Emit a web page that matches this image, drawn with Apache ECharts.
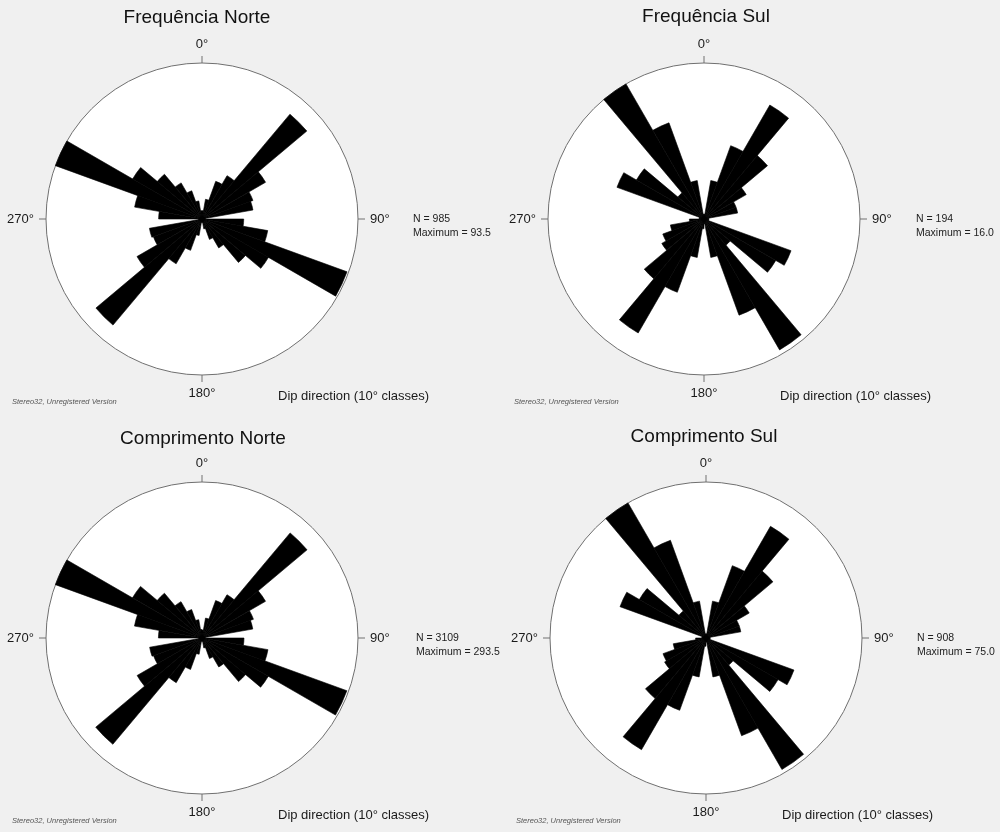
<!DOCTYPE html>
<html>
<head>
<meta charset="utf-8">
<title>Rosetas de direção de mergulho</title>
<script src="https://cdn.jsdelivr.net/npm/echarts@6/dist/echarts.min.js"></script>
<style>
  html, body { margin: 0; padding: 0; background: #f0f0f0; }
  #chart { width: 1000px; height: 832px; }
</style>
</head>
<body>
<div id="chart"></div>
<script>
// 10° dip-direction classes, clockwise from north
const classes = [
  '0-10', '10-20', '20-30', '30-40', '40-50', '50-60', '60-70', '70-80', '80-90',
  '90-100', '100-110', '110-120', '120-130', '130-140', '140-150', '150-160', '160-170', '170-180',
  '180-190', '190-200', '200-210', '210-220', '220-230', '230-240', '240-250', '250-260', '260-270',
  '270-280', '280-290', '290-300', '300-310', '310-320', '320-330', '330-340', '340-350', '350-360'
];

// class values per diagram
const freqNorte = [
  5, 12, 24, 30, 82, 44, 32.5, 31, 2,
  25, 40, 92.5, 46, 34, 20, 13, 6, 2,
  2, 10, 20, 31, 83, 45, 31, 32, 2,
  26, 41, 93.5, 48, 35, 25, 18, 11, 5
];
const freqSul = [
  0.5, 4, 8, 13.5, 8.5, 5, 3.5, 3.5, 0.5,
  0.5, 0.5, 9.5, 8.5, 3.5, 15.5, 10.5, 4, 0.5,
  1, 4, 8, 13.5, 8, 5, 4.5, 3.5, 1.5,
  0.5, 0.5, 9.5, 8, 3.5, 16, 10.5, 4, 0.5
];
const compNorte = [
  15, 38, 75, 94, 258, 138, 103, 97, 6,
  79, 126, 290, 144, 107, 63, 41, 19, 6,
  6, 31, 63, 97, 261, 141, 97, 100, 6,
  82, 129, 293.5, 151, 110, 79, 57, 35, 16
];
const compSul = [
  2, 18, 37, 62, 42, 24, 17, 17, 2,
  2, 2, 45, 40, 17, 73, 50, 19, 2,
  4, 19, 37, 62, 38, 23, 22, 16, 5,
  2, 2, 44, 37, 17, 75, 50, 18, 2
];

const titles = ['Frequência Norte', 'Frequência Sul', 'Comprimento Norte', 'Comprimento Sul'];
const counts = [985, 194, 3109, 908];
const maxima = [93.5, 16.0, 293.5, 75.0];
const seriesValues = [freqNorte, freqSul, compNorte, compSul];

// placement of the four diagrams
const layout = [
  { cx: 202, cy: 219, titleX: 197, titleY: 18, infoX: 413 },
  { cx: 704, cy: 219, titleX: 706, titleY: 17, infoX: 916 },
  { cx: 202, cy: 638, titleX: 203, titleY: 439, infoX: 416 },
  { cx: 706, cy: 638, titleX: 704, titleY: 437, infoX: 917 }
];
const R = 156;
const labelFont = '"Liberation Sans", Arial, sans-serif';

const polar = [], angleAxis = [], radiusAxis = [], series = [], graphic = [];

layout.forEach((p, i) => {
  const frame = 2 * i, bars = 2 * i + 1;
  polar.push({ center: [p.cx, p.cy], radius: R });
  polar.push({ center: [p.cx, p.cy], radius: R });

  // outer circle, cardinal ticks and their labels
  angleAxis.push({
    polarIndex: frame,
    type: 'value', min: 0, max: 360, interval: 90,
    startAngle: 90, clockwise: true,
    axisLine: { lineStyle: { color: '#707070', width: 1 } },
    axisTick: { length: 7, lineStyle: { color: '#707070', width: 1 } },
    axisLabel: {
      margin: 12, color: '#1a1a1a', fontSize: 13, fontFamily: labelFont,
      formatter: v => (v >= 360 ? '' : v + '°')
    },
    splitLine: { show: false },
    splitArea: { show: true, areaStyle: { color: ['#ffffff', '#ffffff'] } }
  });
  radiusAxis.push({ polarIndex: frame, type: 'value', min: 0, max: 1, show: false });

  // class sectors
  angleAxis.push({
    polarIndex: bars, type: 'category', data: classes,
    startAngle: 90, clockwise: true, show: false
  });
  radiusAxis.push({ polarIndex: bars, type: 'value', min: 0, max: maxima[i], show: false });

  series.push({
    type: 'bar', coordinateSystem: 'polar', polarIndex: bars,
    data: seriesValues[i], barCategoryGap: '0%', silent: true,
    // thin same-colour outline closes the anti-aliasing seams between sectors
    itemStyle: { color: '#000', borderColor: '#000', borderWidth: 0.6 }, z: 3
  });

  graphic.push(
    { type: 'text', x: p.titleX, y: p.titleY, style: {
        text: titles[i], fill: '#111', font: '19px ' + labelFont,
        textAlign: 'center', textVerticalAlign: 'middle' } },
    { type: 'text', x: p.infoX, y: p.cy, style: {
        text: 'N = ' + counts[i], fill: '#222', font: '10.5px ' + labelFont,
        textVerticalAlign: 'middle' } },
    { type: 'text', x: p.infoX, y: p.cy + 14, style: {
        text: 'Maximum = ' + maxima[i].toFixed(1), fill: '#222', font: '10.5px ' + labelFont,
        textVerticalAlign: 'middle' } },
    { type: 'text', x: p.cx + 76, y: p.cy + 177, style: {
        text: 'Dip direction (10° classes)', fill: '#1a1a1a', font: '13px ' + labelFont,
        textVerticalAlign: 'middle' } },
    { type: 'text', x: p.cx - 190, y: p.cy + 183, style: {
        text: 'Stereo32, Unregistered Version', fill: '#555', font: 'italic 7.5px ' + labelFont,
        textVerticalAlign: 'middle' } }
  );
});

const chart = echarts.init(document.getElementById('chart'), null, { renderer: 'canvas' });
chart.setOption({
  backgroundColor: '#f0f0f0',
  animation: false,
  polar, angleAxis, radiusAxis, series, graphic
});
</script>
</body>
</html>
